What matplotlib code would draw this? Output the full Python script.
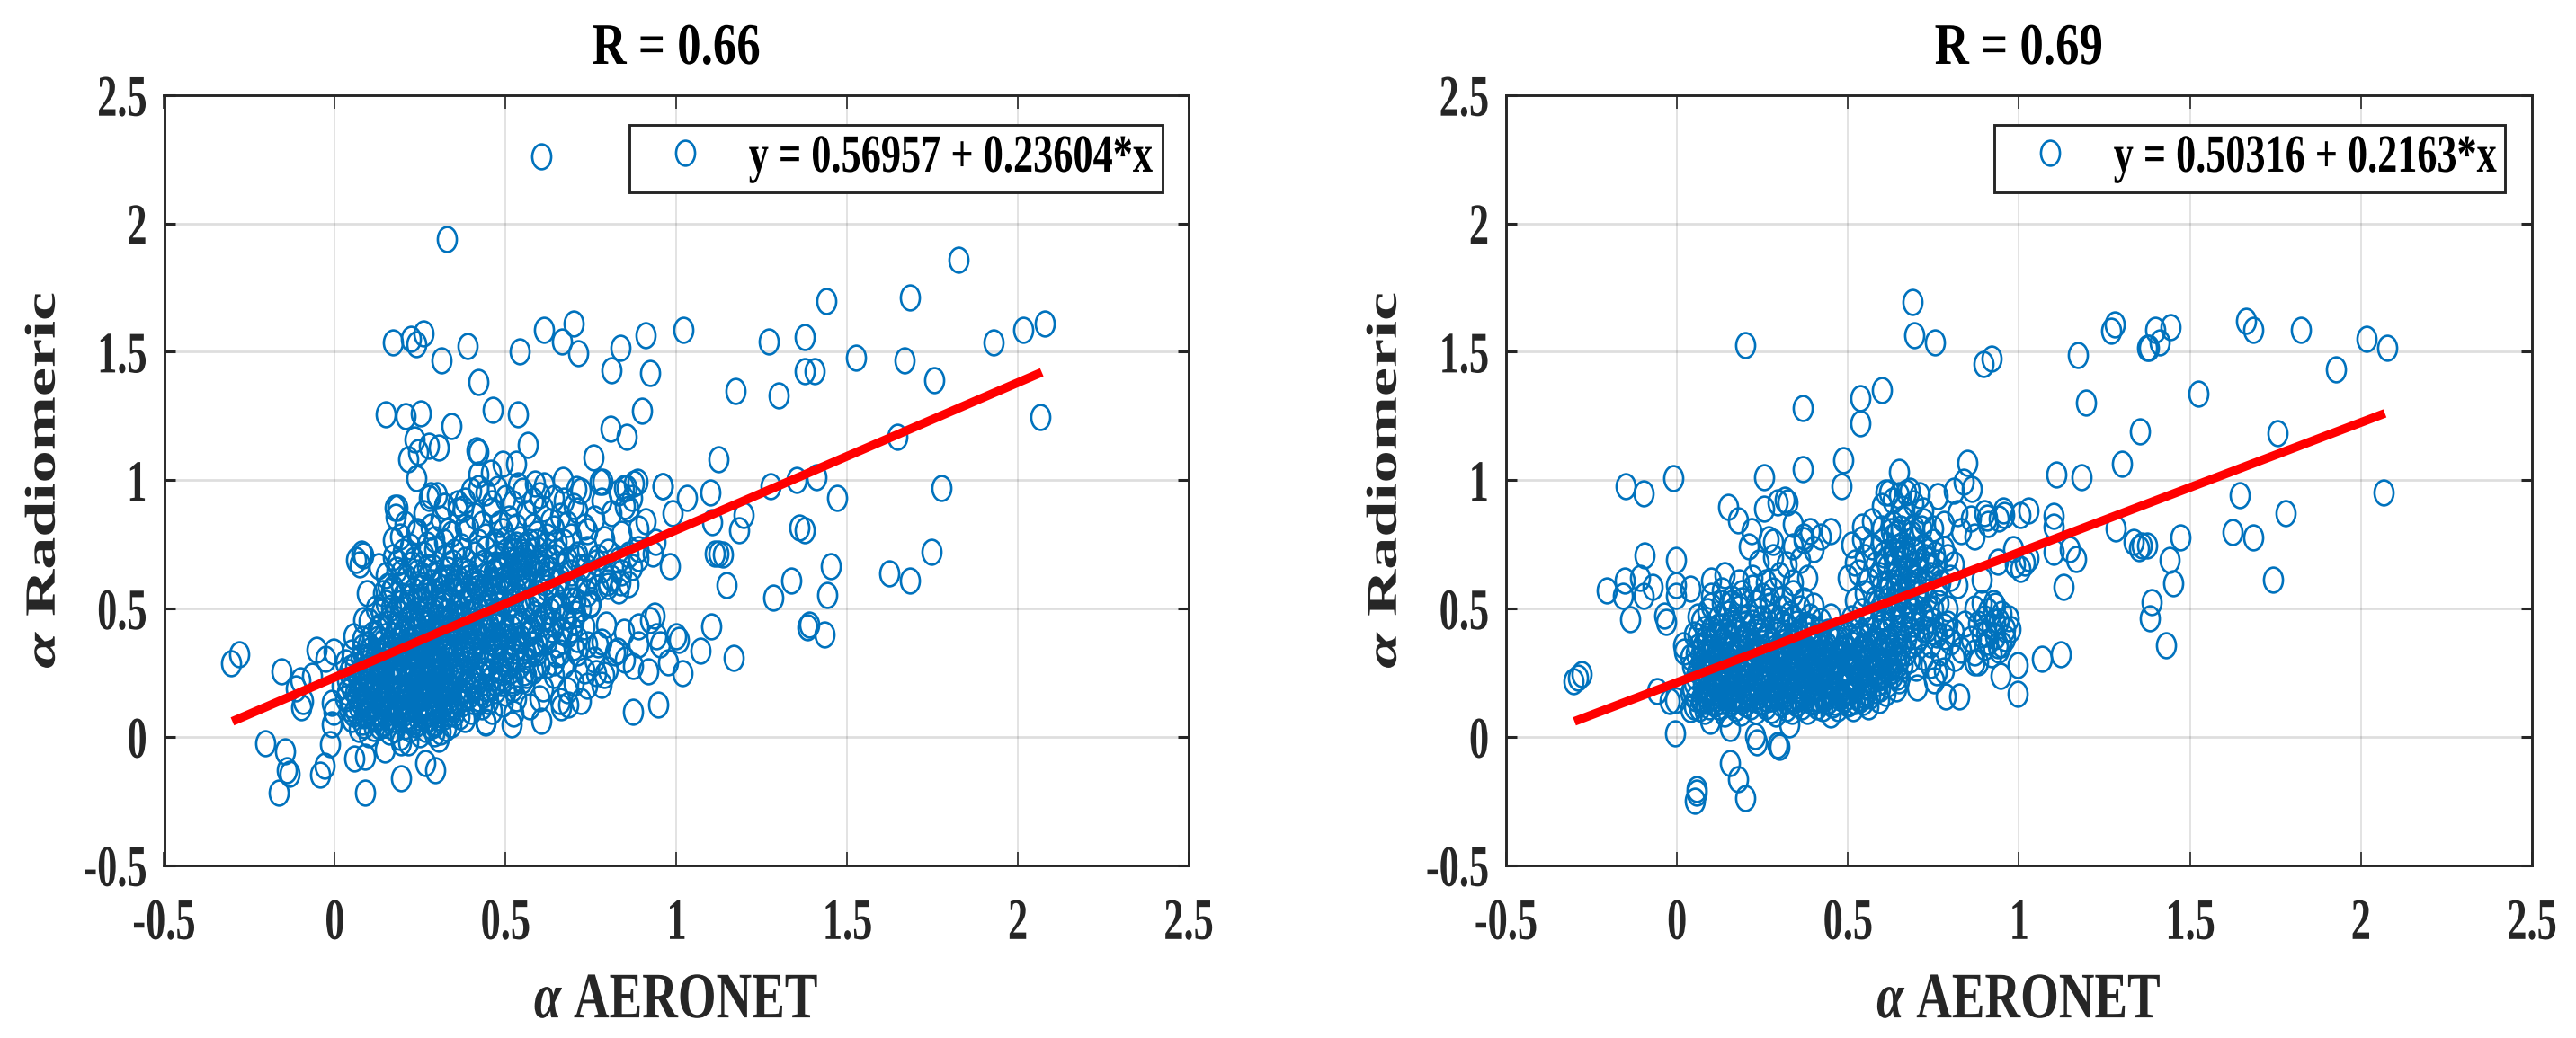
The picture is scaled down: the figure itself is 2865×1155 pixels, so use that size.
import matplotlib
matplotlib.use("Agg")
import matplotlib.pyplot as plt
from matplotlib.markers import MarkerStyle
from matplotlib.patheffects import AbstractPathEffect
from matplotlib.transforms import Affine2D

plt.rcParams['font.family'] = ['Liberation Serif', 'DejaVu Serif']
plt.rcParams['font.weight'] = 'bold'
plt.rcParams['mathtext.fontset'] = 'custom'
plt.rcParams['mathtext.it'] = 'Liberation Serif:italic'
plt.rcParams['mathtext.rm'] = 'Liberation Serif:bold'
plt.rcParams['axes.unicode_minus'] = False

tick_values = [-0.5, 0, 0.5, 1, 1.5, 2, 2.5]
tick_labels = ['-0.5', '0', '0.5', '1', '1.5', '2', '2.5']
titles = ['R = 0.66', 'R = 0.69']
legend_labels = ['y = 0.56957 + 0.23604*x', 'y = 0.50316 + 0.2163*x']
x_label = r'$\alpha$ AERONET'
y_label = r'$\alpha$ Radiomeric'

left_line_x = [-0.30, 2.07]
left_line_y = [0.06, 1.42]
right_line_x = [-0.30, 2.07]
right_line_y = [0.06, 1.26]

left_out_x = [.604,.328,.169,.224,.239,.26,.313,.388,.54,.612,.664,.7,.713,.809,.836,.91,.923,.421,.461,.537,
 .149,.206,.252,.34,.898,.807,.854,.758,.565,.234,.275,.305,.244,.214,.416,.42,.491,.532,.239,.42,
 .456,.668,.783,.885,.854,.96,.587,.612,.537,.476,.42,.28,.708,1.02,1.27,1.375,1.44,1.375,1.404,1.527,
 1.683,1.668,1.756,1.825,1.928,2.015,2.078,2.066,1.648,1.173,1.3,1.124,1.353,1.409,1.277,1.47,1.777,1.1,1.03,.96,
 .876,.847,.775,1.197,1.183,1.104,.988,1.359,1.375,.982,1.124,1.112,1.135,.932,.888,1.147,1.336,1.283,1.453,1.441,
 1.624,1.685,1.746,1.389,1.383,1.433,1.102,1.168,1.071,1.018,1.0,1.006,.935,.923,.888,.847,.888,.953,.941,.976,
 .918,.873,.873,.947,.829,.8,.782,.764,.794,.747,.859,.835,.8,-.305,-.28,-.156,-.1,-.068,-.098,-.093,
 -.113,-.055,-.003,-.028,-.204,-.147,-.14,-.133,-.164,-.043,-.03,-.013,-.008,-.005,-.008,.058,.088,.146,.088,.194,
 .265,.295,.194,.214,.305,.29,.441,.517,.522,.605,.663,.683,.063,.078,.073,.083,.129,.093,.174,.184,
 .179,.204,.169,.275,.32,.375,.083,.053,.239,.184,.154]
left_out_y = [2.26,1.938,1.537,1.549,1.529,1.57,1.467,1.521,1.5,1.584,1.541,1.61,1.494,1.428,1.514,1.566,1.419,1.384,1.273,1.256,
 1.256,1.25,1.258,1.212,1.271,1.2,1.169,1.087,1.136,1.157,1.134,1.126,1.11,1.081,1.116,1.11,1.064,1.064,1.006,1.023,
 1.03,1.0,.994,.994,.97,.977,.988,.98,.98,.965,.97,.942,.965,1.584,1.541,1.558,1.698,1.424,1.424,1.477,
 1.712,1.465,1.39,1.86,1.535,1.584,1.61,1.244,1.169,1.349,1.331,1.081,1.0,1.012,.977,.93,.97,.953,.93,.977,
 .988,.97,.994,.864,.806,.835,.87,.814,.806,.665,.712,.714,.709,.712,.697,.592,.607,.542,.665,.552,
 .636,.607,.721,.437,.425,.398,.429,.308,.335,.249,.39,.378,.472,.454,.431,.408,.361,.361,.39,.29,
 .255,.275,.097,.124,.337,.261,.203,.249,.437,.513,.595,.601,.589,.287,.32,.254,.22,.238,.115,.138,
 .19,.338,.332,.303,-.026,-.055,-.131,-.143,-.219,-.149,-.114,-.029,.05,.097,.132,-.084,-.076,-.049,-.217,-.16,
 -.102,-.131,-.02,-.02,-.008,.015,.056,.05,.091,.062,.115,.126,.69,.712,.67,.705,.665,.56,.893,.893,
 .858,.83,.765,.929,.9,.888,.454,.39,.794,.677,.589]

left_core_x = [.07,.10,.13,.16,.19,.22,.25,.28,.31,.34,
 .05,.08,.11,.14,.17,.20,.23,.26,.29,.32,
 .35,.38,.04,.07,.10,.13,.16,.19,.22,.25,
 .28,.31,.34,.37,.40,.43,.03,.06,.09,.12,
 .15,.18,.21,.24,.27,.30,.33,.36,.39,.42,
 .45,.02,.05,.08,.11,.14,.17,.20,.23,.26,
 .29,.32,.35,.38,.41,.44,.47,.04,.07,.10,
 .13,.16,.19,.22,.25,.28,.31,.34,.37,.40,
 .43,.46,.49,.52,.03,.06,.09,.12,.15,.18,
 .21,.24,.27,.30,.33,.36,.39,.42,.45,.48,
 .51,.54,.05,.08,.11,.14,.17,.20,.23,.26,
 .29,.32,.35,.38,.41,.44,.47,.50,.53,.56,
 .09,.12,.15,.18,.21,.24,.27,.12,.16,.20,
 .24,.28,.10,.14,.18,.22,.26,.30,.13,.17,
 .21,.25,.29,.33,.37,.41,.15,.19,.23,.27,
 .08,.11,.14,.17,.20,.23,.26,.29,.32,.35,
 .38,.41,.44,.47,.50,.53,.56,.59,.62,.65,
 .68,.71,.10,.13,.16,.19,.22,.25,.28,.31,
 .34,.37,.40,.43,.46,.49,.52,.55,.58,.61,
 .64,.67,.70,.73,.12,.15,.18,.21,.24,.27,
 .30,.33,.36,.39,.42,.45,.48,.51,.54,.57,
 .60,.63,.66,.69,.72,.75,.14,.17,.20,.23,
 .26,.29,.32,.35,.38,.41,.44,.47,.50,.53,
 .56,.59,.62,.65,.68,.71,.74,.77,.80,.83,
 .15,.18,.21,.24,.27,.30,.33,.36,.39,.42,
 .45,.48,.51,.54,.57,.60,.63,.66,.69,.72,
 .75,.78,.81,.84,.87,.17,.20,.23,.26,.29,
 .32,.35,.38,.41,.44,.47,.50,.53,.56,.59,
 .62,.65,.68,.71,.74,.77,.80,.83,.86,.89,
 .19,.24,.29,.34,.39,.44,.49,.54,.59,.64,
 .69,.74,.79,.84,.89,.94,.26,.31,.36,.41,
 .46,.51,.56,.61,.66,.71,.76,.81,.86,.91,
 .30,.38,.44,.50,.55,.60,.67,.72,.83,.87,
 .49,.51,.53,.55,.57,.50,.52,.54,.56,.58,
 .25,.28,.31,.34,.37,.40,.43,.46,.27,.33,
 .36,.42,.45,.30,.22,.26,.19,.34,.40,.48,
 .55,.58,.61,.64,.67,.70,.73,.76,.79,.82,
 .50,.53,.56,.59,.62,.65,.68,.71,.74,.77,
 .46,.49,.52,.44,.47,.85,.72,.66,.60,.57]
left_core_y = [.03,.01,.04,.02,.00,.03,.01,.04,.02,.05,
 .07,.06,.08,.05,.07,.09,.06,.08,.05,.08,
 .09,.07,.11,.12,.10,.13,.11,.10,.12,.13,
 .10,.12,.11,.13,.10,.12,.15,.17,.14,.16,
 .15,.17,.14,.16,.18,.15,.17,.14,.16,.15,
 .14,.20,.19,.21,.18,.20,.22,.19,.21,.20,
 .22,.19,.21,.23,.20,.19,.21,.25,.23,.24,
 .26,.23,.25,.27,.24,.26,.23,.25,.27,.24,
 .26,.23,.25,.22,.29,.28,.30,.27,.29,.31,
 .28,.30,.32,.29,.31,.28,.30,.32,.29,.27,
 .30,.28,.33,.35,.32,.34,.36,.33,.35,.37,
 .34,.36,.33,.35,.37,.34,.36,.33,.35,.32,
 .09,.07,.09,.12,.08,.10,.07,.19,.18,.16,
 .17,.20,.27,.29,.27,.32,.27,.25,.22,.13,
 .11,.15,.13,.14,.18,.22,.32,.34,.23,.24,
 .38,.40,.37,.39,.41,.38,.40,.42,.39,.41,
 .38,.40,.42,.39,.41,.38,.40,.37,.39,.36,
 .40,.38,.45,.43,.46,.44,.47,.45,.43,.46,
 .44,.47,.45,.43,.46,.44,.47,.45,.43,.46,
 .44,.47,.45,.43,.50,.52,.49,.51,.53,.50,
 .52,.49,.51,.53,.50,.52,.49,.51,.53,.50,
 .52,.49,.51,.53,.50,.52,.56,.58,.55,.57,
 .59,.56,.58,.60,.57,.59,.56,.58,.60,.57,
 .59,.56,.58,.60,.57,.59,.56,.58,.60,.57,
 .63,.65,.62,.64,.66,.63,.65,.62,.64,.66,
 .63,.65,.62,.64,.66,.63,.65,.62,.64,.66,
 .63,.65,.62,.64,.66,.70,.72,.69,.71,.73,
 .70,.72,.69,.71,.73,.70,.72,.69,.71,.73,
 .70,.72,.69,.71,.73,.70,.72,.69,.71,.73,
 .78,.80,.77,.79,.81,.78,.80,.77,.79,.81,
 .78,.80,.77,.79,.81,.76,.87,.85,.88,.86,
 .88,.85,.87,.89,.86,.88,.85,.87,.89,.84,
 .94,.92,.95,.93,.96,.94,.92,.96,.95,.93,
 .66,.69,.67,.70,.68,.62,.64,.66,.63,.65,
 .48,.41,.50,.43,.55,.48,.54,.60,.55,.46,
 .42,.58,.44,.37,.42,.35,.48,.53,.35,.37,
 .22,.26,.19,.24,.28,.21,.26,.30,.24,.33,
 .17,.15,.30,.33,.28,.32,.18,.33,.20,.36,
 .10,.13,.19,.06,.18,.30,.14,.14,.15,.12]

left_dense_x = [.085,.115,.145,.175,.205,.235,.265,.295,.325,.055,
 .085,.125,.155,.185,.215,.245,.275,.305,.335,.365,
 .045,.075,.105,.135,.165,.195,.225,.255,.285,.315,
 .345,.375,.405,.435,.035,.065,.095,.125,.155,.185,
 .215,.245,.275,.305,.335,.365,.395,.425,.455,.485,
 .035,.065,.095,.125,.155,.185,.215,.245,.275,.305,
 .335,.365,.395,.425,.455,.485,.515,.045,.075,.105,
 .135,.165,.195,.225,.255,.285,.315,.345,.375,.405,
 .435,.465,.495,.525,.555,.075,.105,.135,.165,.195,
 .225,.255,.285,.315,.345,.375,.405,.435,.465,.495,
 .525,.555,.585,.095,.125,.155,.185,.215,.245,.275,
 .305,.335,.365,.395,.425,.455,.485,.515,.545,.575,
 .125,.155,.185,.215,.245,.275,.305,.335,.365,.395,
 .425,.455,.485,.515,.545,.575,.605,.635,.665,.695,
 .135,.165,.195,.225,.255,.285,.315,.345,.375,.405,
 .435,.465,.495,.525,.555,.585,.615,.645,.675,.705,
 .165,.195,.225,.255,.285,.315,.345,.375,.405,.435,
 .465,.495,.525,.555,.585,.615,.645,.675,.705,.735,
 .195,.225,.255,.285,.315,.345,.375,.405,.435,.465,
 .495,.525,.555,.585,.615,.645,.675,.705,.735,.765,
 .22,.27,.32,.37,.42,.47,.52,.57,.62,.67]
left_dense_y = [.045,.035,.055,.03,.04,.05,.03,.055,.035,.09,
 .085,.095,.075,.09,.065,.075,.09,.075,.09,.08,
 .125,.135,.12,.14,.125,.135,.145,.12,.135,.145,
 .125,.15,.14,.165,.175,.16,.18,.17,.195,.185,
 .175,.19,.165,.18,.195,.17,.185,.175,.19,.23,
 .22,.24,.215,.235,.245,.22,.24,.225,.245,.215,
 .235,.25,.22,.24,.255,.21,.26,.27,.26,.28,
 .265,.28,.26,.285,.265,.28,.26,.275,.255,.28,
 .285,.31,.285,.31,.25,.31,.34,.315,.33,.31,
 .325,.34,.31,.33,.35,.32,.34,.31,.335,.35,
 .335,.35,.34,.36,.38,.355,.375,.39,.36,.38,
 .39,.37,.395,.375,.39,.37,.395,.37,.385,.41,
 .42,.44,.43,.45,.42,.445,.43,.415,.46,.42,
 .445,.42,.455,.425,.44,.415,.44,.42,.41,.42,
 .485,.505,.52,.48,.53,.49,.515,.475,.525,.49,
 .515,.48,.525,.49,.515,.48,.47,.505,.47,.48,
 .57,.59,.55,.58,.60,.55,.57,.59,.55,.58,
 .54,.58,.55,.61,.54,.60,.55,.59,.53,.60,
 .64,.67,.63,.66,.62,.68,.65,.61,.68,.64,
 .67,.72,.72,.68,.66,.70,.67,.70,.66,.68,
 .74,.75,.76,.74,.76,.75,.74,.76,.75,.76]

left_extra_x = [.06,.09,.12,.15,.18,.21,.24,.27,.30,.33,
 .07,.10,.13,.16,.19,.22,.25,.28,.31,.34,
 .08,.11,.14,.17,.20,.23,.26,.29,.32,.35,
 .09,.12,.15,.18,.21,.24,.27,.30,.33,.36,
 .23,.26,.29,.32,.35,.38,.41,.44,.47,.50,
 .27,.30,.33,.36,.39,.42,.45,.48,.51,.54,
 .28,.33,.38,.43,.48,.53,.58,.63,.68,.73,
 .32,.36,.40,.46,.52,.58,.64,.70,.78,.85,
 .47,.50,.53,.56,.59,.47,.55,.62,.65,.60,
 .58,.62,.66,.70,.74,.78,.52,.56,.60,.64]
left_extra_y = [.105,.115,.10,.125,.105,.12,.11,.125,.105,.12,
 .18,.195,.175,.19,.17,.195,.175,.19,.17,.19,
 .25,.26,.245,.265,.25,.26,.24,.255,.245,.26,
 .31,.325,.345,.325,.35,.33,.35,.32,.345,.325,
 .42,.445,.41,.445,.42,.44,.41,.39,.43,.39,
 .57,.59,.62,.60,.62,.60,.58,.61,.59,.61,
 .82,.80,.82,.83,.83,.82,.82,.84,.83,.82,
 .90,.91,.96,.91,.91,.92,.93,.90,.92,.90,
 .76,.77,.75,.75,.76,.67,.68,.78,.76,.68,
 .36,.37,.33,.35,.36,.37,.21,.24,.28,.29]

right_out_x = [.2,.688,.695,.754,.897,.919,.367,.537,.6,.537,.487,.367,.254,.48,-.01,-.15,-.098,.849,.649,.839,
 .861,.81,1.11,.61,.67,.761,.314,1.172,1.195,1.184,1.3,1.354,1.27,1.281,1.374,1.38,1.411,1.399,1.443,1.525,
 1.665,1.684,1.825,1.755,1.926,2.016,2.076,2.066,1.646,1.779,1.624,1.685,1.744,1.471,1.441,1.452,1.388,1.383,1.43,1.282,
 1.335,1.352,1.374,1.36,1.1,1.1,1.1,1.148,1.167,1.131,1.004,1.016,1.027,.982,1.027,1.004,.956,.953,.907,.976,
 .997,.945,.997,1.066,1.122,.88,.925,.93,.937,.96,.904,.892,.937,.988,-.303,-.278,-.29,-.205,-.095,-.002,
 -.153,-.107,-.072,-.158,-.098,-.138,-.037,-.032,-.002,-.002,.038,.018,.02,-.057,-.022,-.007,-.005,.038,.098,.154,
 .229,.234,.294,.299,.329,.154,.179,.199,.058,.058,.053,.45,.505,.59,.701,.751,.786,.826,.811,.871,
 .149,.179,.254,.294,.324,.339,.369,.269,.39,.218,.209]
right_out_y = [1.527,1.694,1.566,1.537,1.451,1.474,1.279,1.32,1.351,1.221,1.076,1.044,1.012,.977,1.006,.977,.948,1.067,1.031,.994,
 .965,.96,1.023,.953,.953,.936,.924,1.488,1.302,1.012,1.062,1.188,1.581,1.605,1.517,1.517,1.535,1.587,1.595,1.337,
 1.622,1.587,1.584,1.184,1.433,1.552,1.517,.953,.942,.871,.797,.777,.611,.777,.689,.598,.525,.463,.355,.81,
 .76,.736,.744,.744,.859,.818,.719,.73,.693,.584,.654,.678,.695,.73,.883,.865,.865,.883,.853,.42,
 .279,.236,.168,.305,.322,.29,.52,.449,.355,.385,.402,.613,.683,.672,.215,.244,.229,.57,.707,.689,
 .607,.619,.584,.549,.549,.457,.472,.449,.59,.549,.578,.355,.332,.179,.138,.144,.012,.109,.062,.033,
 .004,-.02,-.032,-.038,.05,-.102,-.166,-.237,-.202,-.219,-.249,.086,.132,.144,.191,.22,.156,.156,.308,.291,
 .894,.842,.889,.912,.912,.83,.765,.771,.8,.8,.742]

right_core_x = [.05,.08,.11,.14,.17,.20,.23,.26,.29,.32,
 .35,.38,.41,.44,.47,.50,.53,.56,.04,.07,
 .10,.13,.16,.19,.22,.25,.28,.31,.34,.37,
 .40,.43,.46,.49,.52,.55,.58,.61,.64,.05,
 .08,.11,.14,.17,.20,.23,.26,.29,.32,.35,
 .38,.41,.44,.47,.50,.53,.56,.59,.62,.65,
 .06,.09,.12,.15,.18,.21,.24,.27,.30,.33,
 .36,.39,.42,.45,.48,.51,.54,.57,.60,.63,
 .04,.07,.10,.13,.16,.19,.22,.25,.28,.31,
 .34,.37,.40,.43,.46,.49,.52,.55,.58,.61,
 .64,.67,.06,.09,.12,.15,.18,.21,.24,.27,
 .30,.33,.36,.39,.42,.45,.48,.51,.54,.57,
 .08,.12,.16,.20,.24,.28,.32,.36,.40,.44,
 .10,.15,.20,.25,.30,.35,.40,.45,.50,.55,
 .12,.17,.22,.27,.32,.37,.42,.47,.52,.14,
 .05,.08,.11,.14,.17,.20,.23,.26,.29,.32,
 .35,.38,.41,.44,.47,.50,.53,.56,.59,.62,
 .65,.68,.71,.74,.77,.80,.83,.06,.09,.12,
 .15,.18,.21,.24,.27,.30,.33,.36,.39,.42,
 .45,.51,.54,.57,.60,.63,.66,.69,.72,.75,
 .78,.81,.84,.10,.13,.16,.19,.22,.25,.28,
 .31,.34,.37,.40,.52,.55,.58,.61,.64,.67,
 .70,.73,.76,.79,.10,.14,.18,.22,.26,.30,
 .34,.38,.50,.53,.56,.59,.62,.65,.68,.71,
 .74,.77,.80,.82,.24,.28,.32,.36,.52,.55,
 .58,.61,.64,.67,.70,.73,.76,.79,.81,.28,
 .34,.37,.40,.51,.54,.57,.60,.63,.66,.69,
 .72,.75,.78,.42,.45,.54,.57,.60,.63,.66,
 .69,.72,.75,.78,.83,.87,.91,.94,.60,.63,
 .66,.69,.72,.62,.65,.68,.82,.86,.90,.71,
 .87,.89,.91,.93,.95,.88,.90,.92,.94,.96,
 .86,.89,.91,.93,.95,.87,.90,.92,.94,.97,
 .62,.64,.66,.68,.70,.63,.65,.67,.69,.64,
 .60,.62,.64,.66,.68,.70,.72,.74,.76,.78]
right_core_y = [.12,.10,.13,.09,.11,.13,.10,.12,.09,.11,
 .13,.10,.12,.14,.11,.13,.15,.12,.17,.15,
 .17,.16,.18,.15,.17,.14,.16,.18,.15,.17,
 .18,.16,.19,.17,.19,.16,.18,.17,.19,.21,
 .22,.20,.22,.21,.23,.20,.22,.21,.23,.20,
 .22,.24,.21,.23,.22,.24,.21,.23,.25,.22,
 .26,.25,.27,.24,.26,.28,.25,.27,.24,.26,
 .28,.25,.27,.29,.26,.28,.25,.27,.29,.26,
 .31,.29,.32,.30,.31,.29,.32,.30,.31,.33,
 .30,.32,.31,.33,.30,.32,.31,.33,.30,.32,
 .31,.33,.35,.37,.34,.36,.35,.37,.34,.36,
 .35,.37,.34,.36,.35,.38,.34,.36,.35,.37,
 .14,.12,.14,.19,.16,.19,.14,.18,.15,.20,
 .27,.23,.29,.21,.28,.24,.29,.24,.29,.20,
 .19,.26,.33,.17,.20,.34,.22,.32,.26,.32,
 .40,.42,.39,.41,.43,.40,.42,.39,.41,.43,
 .40,.42,.39,.41,.38,.40,.42,.39,.41,.38,
 .40,.42,.39,.36,.33,.37,.34,.47,.49,.46,
 .48,.50,.47,.49,.51,.46,.48,.50,.47,.45,
 .47,.46,.49,.47,.50,.48,.46,.49,.47,.45,
 .43,.41,.44,.55,.57,.54,.56,.58,.55,.57,
 .54,.56,.53,.51,.53,.56,.54,.57,.55,.53,
 .56,.54,.57,.50,.61,.63,.60,.62,.60,.63,
 .60,.62,.62,.64,.61,.63,.60,.62,.64,.61,
 .63,.60,.62,.59,.68,.70,.67,.69,.68,.70,
 .67,.69,.68,.70,.67,.69,.68,.70,.67,.76,
 .74,.78,.73,.75,.77,.74,.76,.78,.75,.77,
 .74,.76,.73,.78,.80,.82,.84,.81,.83,.85,
 .82,.84,.81,.83,.80,.78,.83,.85,.90,.92,
 .89,.91,.88,.95,.94,.96,.87,.85,.87,.94,
 .50,.52,.49,.51,.48,.44,.46,.43,.45,.42,
 .38,.40,.37,.39,.36,.33,.35,.32,.34,.46,
 .58,.60,.57,.59,.62,.72,.74,.71,.73,.79,
 .35,.37,.34,.28,.30,.27,.31,.28,.25,.26]

right_dense_x = [.065,.095,.125,.155,.185,.215,.245,.275,.305,.335,
 .365,.395,.425,.455,.485,.515,.545,.055,.085,.115,
 .145,.175,.205,.235,.265,.295,.325,.355,.385,.415,
 .445,.475,.505,.535,.565,.595,.045,.075,.105,.135,
 .165,.195,.225,.255,.285,.315,.345,.375,.405,.435,
 .465,.495,.525,.555,.585,.615,.645,.055,.085,.115,
 .145,.175,.205,.235,.265,.295,.325,.355,.385,.415,
 .445,.475,.505,.535,.565,.595,.625,.045,.075,.105,
 .135,.165,.195,.225,.255,.285,.315,.345,.375,.405,
 .435,.465,.495,.525,.555,.585,.615,.645,.055,.085,
 .115,.145,.175,.205,.235,.265,.295,.325,.355,.385,
 .415,.445,.475,.505,.535,.565,.595,.625,.655,.685,
 .075,.105,.135,.165,.195,.225,.255,.285,.315,.345,
 .375,.405,.435,.465,.495,.525,.555,.585,.06,.085,
 .115,.145,.175,.205,.235,.265,.295,.325,.355,.385,
 .415,.445,.475,.505,.535,.565,.12,.16,.20,.24,
 .56,.60,.63,.66,.69,.72,.75,.78,.585,.615,
 .645,.675,.705,.735,.765,.615,.645,.675,.705,.735,
 .605,.635,.665,.695,.725,.755,.625,.655,.685,.715,
 .07,.10,.13,.16,.19,.23,.27,.31,.35,.39]
right_dense_y = [.11,.12,.115,.13,.095,.12,.135,.105,.13,.10,
 .12,.135,.11,.125,.145,.11,.135,.15,.165,.15,
 .165,.145,.16,.175,.145,.165,.18,.15,.17,.145,
 .17,.155,.175,.145,.16,.19,.19,.205,.19,.205,
 .195,.21,.185,.205,.19,.21,.185,.205,.19,.21,
 .19,.205,.215,.195,.21,.205,.235,.235,.245,.23,
 .25,.235,.25,.235,.245,.225,.245,.235,.255,.235,
 .25,.235,.255,.235,.25,.245,.27,.275,.285,.27,
 .285,.275,.285,.265,.285,.265,.285,.27,.29,.265,
 .285,.275,.295,.275,.29,.275,.29,.28,.325,.31,
 .32,.31,.335,.31,.33,.31,.33,.31,.325,.31,
 .325,.31,.33,.31,.325,.31,.335,.345,.35,.36,
 .355,.35,.375,.35,.38,.355,.38,.345,.37,.385,
 .35,.375,.36,.375,.35,.38,.355,.375,.39,.38,
 .40,.395,.415,.39,.41,.385,.40,.395,.41,.395,
 .41,.395,.41,.385,.40,.415,.43,.44,.44,.43,
 .44,.44,.45,.43,.44,.42,.41,.39,.52,.53,
 .52,.51,.53,.50,.52,.66,.64,.65,.65,.66,
 .71,.72,.73,.72,.70,.71,.80,.81,.79,.81,
 .45,.51,.52,.52,.53,.52,.53,.50,.44,.43]

right_extra_x = [.07,.10,.13,.16,.19,.22,.25,.28,.31,.34,
 .37,.40,.43,.46,.49,.52,.55,.09,.12,.15,
 .18,.21,.24,.27,.30,.33,.36,.39,.42,.45,
 .48,.51,.54,.57,.60,.63,.08,.11,.14,.17,
 .20,.23,.26,.29,.32,.35,.38,.41,.44,.47,
 .50,.53,.56,.59,.62,.65,.10,.13,.16,.19,
 .22,.25,.28,.31,.34,.37,.40,.43,.46,.49,
 .52,.55,.58,.61,.64,.67,.70,.73,.76,.79,
 .10,.13,.16,.19,.22,.25,.28,.31,.34,.37,
 .60,.63,.66,.69,.72,.75,.60,.64,.68,.72]
right_extra_y = [.14,.155,.14,.155,.14,.15,.135,.15,.16,.14,
 .155,.14,.15,.135,.15,.14,.175,.19,.21,.195,
 .215,.20,.22,.195,.22,.20,.22,.20,.225,.20,
 .24,.225,.24,.22,.24,.24,.28,.295,.265,.29,
 .27,.29,.26,.285,.27,.29,.265,.29,.265,.285,
 .265,.29,.265,.285,.28,.30,.345,.355,.325,.345,
 .33,.345,.325,.35,.32,.345,.33,.345,.325,.345,
 .32,.345,.365,.37,.38,.38,.37,.42,.40,.44,
 .42,.43,.455,.46,.445,.46,.47,.44,.46,.435,
 .47,.50,.49,.47,.48,.50,.59,.58,.60,.59]


class Squeeze(AbstractPathEffect):
    """Draw real text narrower along one local direction, as in the stretched reference."""
    def __init__(self, sx=1.0, sy=1.0, anchor=0.0):
        super().__init__()
        self.sx, self.sy, self.anchor = sx, sy, anchor

    def draw_path(self, renderer, gc, tpath, affine, rgbFace=None):
        ext = tpath.get_extents()
        xa = ext.x0 + self.anchor * ext.width
        t = Affine2D().translate(-xa, 0).scale(self.sx, self.sy).translate(xa, 0)
        renderer.draw_path(gc, tpath, t + affine, rgbFace)


W, H = 2865, 1155
DPI = 100
BLUE = '#0072BD'
DARK = '#262626'
fig = plt.figure(figsize=(W / DPI, H / DPI), dpi=DPI, facecolor='white')
ring = MarkerStyle('o', fillstyle='none', transform=Affine2D().scale(0.76, 1.0))


def panel(x0, x1, xs, ys, lx, ly, title, leg_text, leg_px, leg_sx):
    top, bottom = 105.7, 962.7
    ax = fig.add_axes([x0 / W, 1 - bottom / H, (x1 - x0) / W, (bottom - top) / H])
    ax.set_xlim(-0.5, 2.5)
    ax.set_ylim(-0.5, 2.5)
    ax.set_axisbelow(True)
    ax.grid(axis='x', color=DARK, alpha=0.15, lw=1.2)
    ax.grid(axis='y', color=DARK, alpha=0.15, lw=2.0)
    ax.plot(xs, ys, linestyle='none', marker=ring, ms=20, mew=1.9, mec=BLUE, mfc='none',
            label=leg_text)
    ax.plot(lx, ly, color='#FF0000', lw=7, solid_capstyle='butt', label='_nolegend_')
    ax.set_xticks(tick_values, tick_labels)
    ax.set_yticks(tick_values, tick_labels)
    ax.tick_params(axis='x', direction='in', length=10.5, width=1.2, color=DARK, top=True,
                   pad=26, labelsize=47, labelcolor=DARK)
    ax.tick_params(axis='y', direction='in', length=8.5, width=2.2, color=DARK, right=True,
                   pad=13, labelsize=47, labelcolor=DARK)
    for t in ax.get_xticklabels():
        t.set_path_effects([Squeeze(sx=0.68, anchor=0.5)])
    for t in ax.get_yticklabels():
        t.set_path_effects([Squeeze(sx=0.68, anchor=1.0)])
    for s in ax.spines.values():
        s.set_color(DARK)
        s.set_linewidth(2.1)
    ttl = ax.set_title(title, fontsize=47, fontweight='bold', pad=25, color='black')
    ttl.set_path_effects([Squeeze(sx=0.81, anchor=0.5)])
    xl = ax.set_xlabel(x_label, fontsize=52, fontweight='bold', color=DARK)
    xl.set_path_effects([Squeeze(sx=0.76, anchor=0.5)])
    ax.xaxis.set_label_coords(0.5, -0.14)
    yl = ax.set_ylabel(y_label, fontsize=52, fontweight='bold', color=DARK)
    yl.set_path_effects([Squeeze(sy=0.66)])
    ax.yaxis.set_label_coords(-(x0 - (76 if x0 < 1000 else 1568)) / (x1 - x0), 0.5)

    l, r, t, b = leg_px
    bb = ((l - x0) / (x1 - x0), (bottom - t) / (bottom - top) - 0.091,
          (r - l) / (x1 - x0), 0.091)
    leg = ax.legend(loc='upper left', bbox_to_anchor=bb, mode='expand', borderaxespad=0,
                    prop={'family': 'Liberation Serif', 'weight': 'bold', 'size': 43},
                    fancybox=False, framealpha=1, edgecolor=DARK, borderpad=0.17,
                    handlelength=1.73, handletextpad=0.32, numpoints=1)
    leg.get_frame().set_linewidth(2.1)
    for txt in leg.get_texts():
        txt.set_path_effects([Squeeze(sx=leg_sx, anchor=0.0)])
    return ax


panel(182.5, 1322, left_out_x + left_core_x + left_dense_x + left_extra_x,
      left_out_y + left_core_y + left_dense_y + left_extra_y,
      left_line_x, left_line_y, titles[0], legend_labels[0], (700, 1293, 139, 217), 0.742)
panel(1675, 2816, right_out_x + right_core_x + right_dense_x + right_extra_x,
      right_out_y + right_core_y + right_dense_y + right_extra_y,
      right_line_x, right_line_y, titles[1], legend_labels[1], (2218, 2786.5, 139, 217), 0.74)

fig.savefig('out.png', dpi=DPI, facecolor='white')
